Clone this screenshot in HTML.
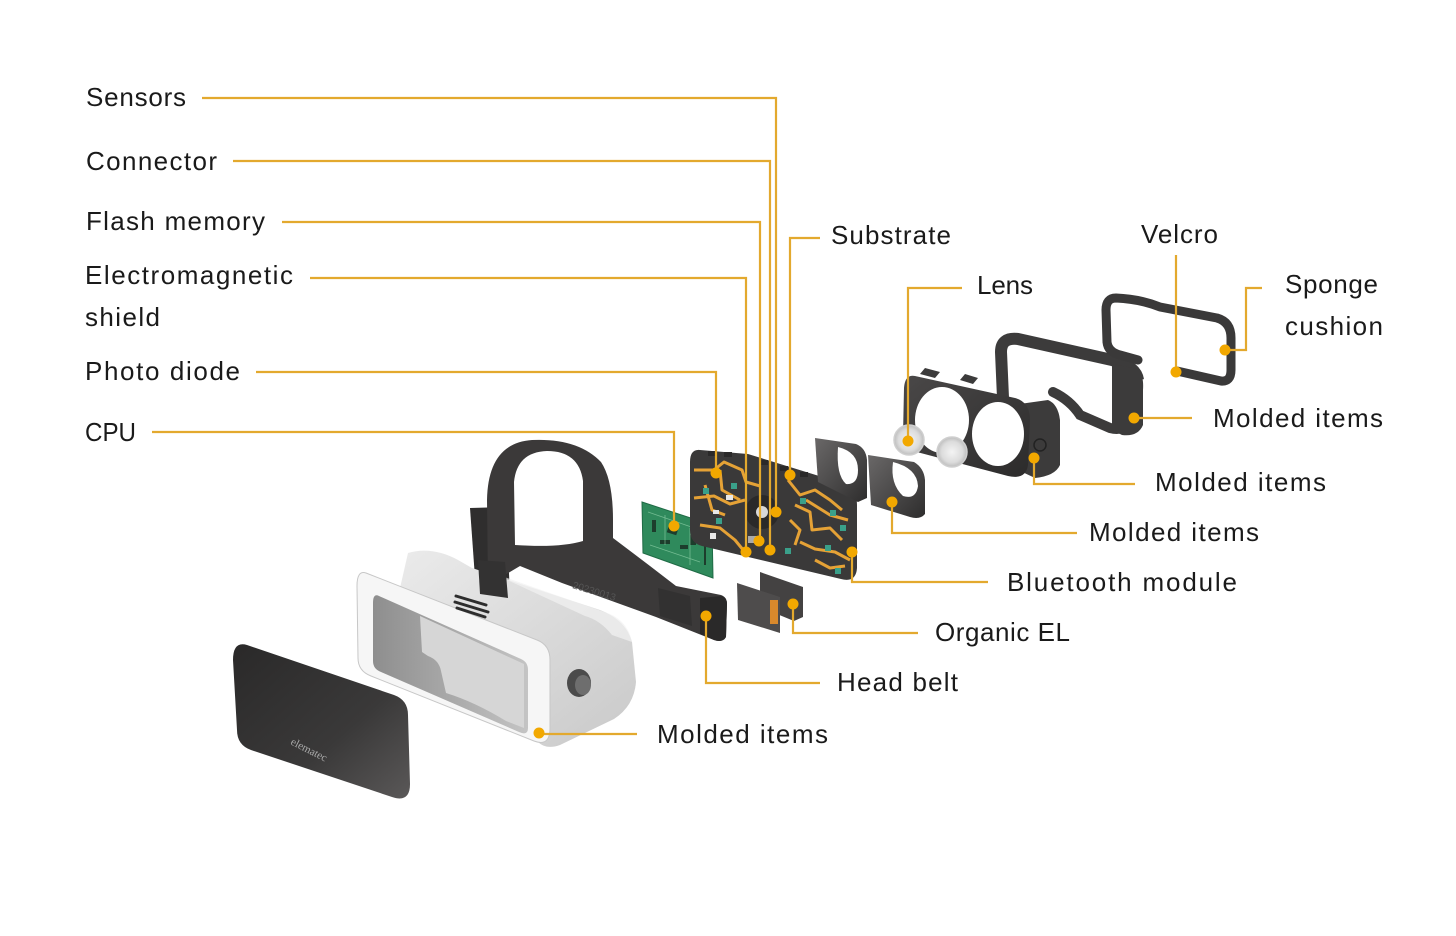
<!DOCTYPE html>
<html>
<head>
<meta charset="utf-8">
<style>
html,body{margin:0;padding:0;background:#fff;}
svg{display:block;}
text{font-family:"Liberation Sans",sans-serif;font-size:26px;fill:#1a1a1a;}
</style>
</head>
<body>
<svg width="1456" height="936" viewBox="0 0 1456 936" xmlns="http://www.w3.org/2000/svg">
<defs>
  <linearGradient id="gCover" x1="0" y1="0" x2="1" y2="1">
    <stop offset="0" stop-color="#2a2929"/>
    <stop offset="0.6" stop-color="#3a3939"/>
    <stop offset="1" stop-color="#5a5858"/>
  </linearGradient>
  <linearGradient id="gBody" x1="0" y1="0" x2="1" y2="1">
    <stop offset="0" stop-color="#ececec"/>
    <stop offset="1" stop-color="#c9c9c9"/>
  </linearGradient>
  <linearGradient id="gInner" x1="0" y1="0" x2="1" y2="0">
    <stop offset="0" stop-color="#8e8e8e"/>
    <stop offset="1" stop-color="#c4c4c4"/>
  </linearGradient>
  <linearGradient id="gDark" x1="0" y1="0" x2="1" y2="1">
    <stop offset="0" stop-color="#4a4848"/>
    <stop offset="1" stop-color="#2c2b2b"/>
  </linearGradient>
  <linearGradient id="gShade" x1="0" y1="0" x2="1" y2="1">
    <stop offset="0" stop-color="#6a6868"/>
    <stop offset="1" stop-color="#2e2d2d"/>
  </linearGradient>
  <radialGradient id="gLens" cx="0.5" cy="0.5" r="0.5">
    <stop offset="0" stop-color="#f4f4f4"/>
    <stop offset="0.7" stop-color="#dcdcdc"/>
    <stop offset="1" stop-color="#bdbdbd"/>
  </radialGradient>
</defs>

<!-- ===== Front cover panel ===== -->
<path d="M247,645 L394,695 Q408,700 408,715 L410,784 Q410,803 392,797 L251,750 Q237,745 237,730 L233,660 Q233,641 247,645 Z" fill="url(#gCover)"/>
<text x="290" y="744" transform="rotate(27 290 744)" style="font-size:11px;fill:#aaa;font-family:'Liberation Serif',serif;">elematec</text>

<!-- ===== Headband ===== -->
<path d="M470,508 L506,507 L510,596 L476,592 Z" fill="#2f2e2e"/>
<path fill-rule="evenodd" fill="#3b3939" d="M488,585 L487,500 Q488,443 532,440 Q578,438 601,462 Q613,480 613,520 L613,538 L650,566 L676,586 L721,595 Q727,597 727,604 L726,637 Q723,643 714,640 L656,617 L562,583 L520,566 Z
 M515,545 L514,482 Q517,452 547,451 Q579,451 583,481 L583,541 Q560,548 515,545 Z"/>
<path d="M700,598 L722,596 Q727,598 727,604 L726,637 Q722,643 714,640 L700,634 Z" fill="#2a2929"/>
<path d="M658,588 L690,596 L692,626 L660,616 Z" fill="#323131"/>
<text x="572" y="588" transform="rotate(17 572 588)" style="font-size:10px;fill:#555;">20230013</text>

<!-- ===== White body ===== -->
<path d="M408,553 Q432,546 458,560 L472,568 L600,610 Q626,620 632,642 L636,682 Q634,706 614,719 L560,745 Q546,750 538,742 L380,676 Z" fill="url(#gBody)"/>
<path d="M490,572 L610,614 Q628,622 632,642 L612,635 Q600,620 585,616 Z" fill="#f2f2f2" opacity="0.7"/>
<!-- front rim -->
<path d="M366,573 L537,640 Q550,645 550,660 L550,728 Q550,747 534,741 L371,676 Q358,671 358,658 L357,586 Q357,570 366,573 Z" fill="#f6f6f6" stroke="#c7c7c7" stroke-width="1"/>
<!-- inner opening -->
<path d="M379,596 L521,659 Q528,662 528,670 L528,728 Q528,736 519,732 L381,672 Q373,669 373,661 L373,603 Q373,593 379,596 Z" fill="url(#gInner)"/>
<path d="M420,616 L524,664 L524,728 L506,721 Q475,702 446,693 L441,671 Q439,660 428,656 L422,652 Z" fill="#d6d6d6"/>
<!-- vents -->
<g stroke="#2d2d2d" stroke-width="3" stroke-linecap="round">
  <line x1="456" y1="596" x2="486" y2="605"/>
  <line x1="455" y1="602" x2="488" y2="612"/>
  <line x1="457" y1="608" x2="485" y2="617"/>
</g>
<!-- strap over body top -->
<path d="M478,560 L505,562 L508,598 L480,594 Z" fill="#333232"/>
<!-- button -->
<ellipse cx="579" cy="683" rx="12" ry="14" fill="#4b4b4b"/>
<ellipse cx="583" cy="685" rx="8" ry="10" fill="#6e6e6e"/>

<!-- ===== PCB ===== -->
<path d="M642,502 L712,525 L713,578 L643,553 Z" fill="#2f8a5c" stroke="#1f6b45" stroke-width="1"/>
<g fill="#1d3d2c">
  <rect x="668" y="525" width="10" height="9" transform="rotate(18 673 529)"/>
  <rect x="652" y="520" width="4" height="12"/>
  <rect x="690" y="535" width="6" height="10"/>
  <rect x="680" y="545" width="8" height="4"/>
  <rect x="660" y="540" width="10" height="4"/>
  <rect x="704" y="535" width="2" height="30"/>
</g>
<g stroke="#8fd0a8" stroke-width="0.8" fill="none" opacity="0.7">
  <path d="M648,512 L700,530 M650,545 L700,562 M665,515 L665,545 M690,528 L690,565"/>
</g>

<!-- ===== Main substrate ===== -->
<path d="M700,450 L748,454 L845,484 Q857,490 857,505 L857,568 Q856,583 841,579 L702,546 Q690,543 690,530 L690,462 Q690,449 700,450 Z" fill="#3a3939"/>
<g fill="#2a2929">
  <rect x="708" y="451" width="8" height="5"/><rect x="724" y="452" width="8" height="5"/>
  <rect x="760" y="460" width="8" height="5"/><rect x="780" y="466" width="8" height="5"/>
  <rect x="800" y="472" width="8" height="5"/><rect x="820" y="478" width="8" height="5"/>
</g>
<g stroke="#e5a236" stroke-width="3" fill="none" stroke-linejoin="round">
  <path d="M694,470 L714,470 L724,462 L742,470 L746,482 L760,486"/>
  <path d="M694,498 L714,496 L730,504 L745,500"/>
  <path d="M700,525 L720,528 L735,540 L744,551"/>
  <path d="M720,470 L722,490 L740,500"/>
  <path d="M705,485 L712,510 L725,515"/>
  <path d="M788,480 L800,495 L815,490 L830,500 L842,510"/>
  <path d="M795,505 L810,512 L812,530 L830,528 L842,540"/>
  <path d="M800,542 L815,549 L835,552 L850,560"/>
  <path d="M790,520 L800,530 L795,545"/>
  <path d="M806,500 L830,515 L848,520"/>
  <path d="M815,560 L830,568 L845,566"/>
</g>
<circle cx="762" cy="512" r="17" fill="#2a2929"/>
<circle cx="762" cy="512" r="6" fill="#d8d8d8"/>
<rect x="748" y="536" width="14" height="7" fill="#aaa"/>
<g fill="#3aa08a">
  <rect x="703" y="488" width="6" height="6"/><rect x="731" y="483" width="6" height="6"/>
  <rect x="716" y="518" width="6" height="6"/><rect x="800" y="498" width="6" height="6"/>
  <rect x="830" y="510" width="6" height="6"/><rect x="840" y="525" width="6" height="6"/>
  <rect x="825" y="545" width="6" height="6"/><rect x="835" y="568" width="6" height="6"/>
  <rect x="785" y="548" width="6" height="6"/>
</g>
<g fill="#e8e8e8">
  <rect x="726" y="495" width="7" height="5"/><rect x="713" y="510" width="6" height="4"/><rect x="710" y="533" width="6" height="6"/>
</g>

<!-- ===== Organic EL ===== -->
<path d="M760,572 L803,587 L803,617 L794,621 L760,607 Z" fill="#444242"/>
<path d="M737,583 L780,597 L780,633 L738,620 Z" fill="#4e4c4c"/>
<rect x="770" y="600" width="8" height="24" fill="#d9892c"/>

<!-- ===== Shades ===== -->
<path d="M815,438 L856,444 Q866,448 867,460 L867,498 L858,502 L818,482 Z" fill="url(#gShade)"/>
<path d="M838,447 Q858,452 858,470 Q858,485 846,484 Q836,475 838,447 Z" fill="#fff"/>
<path d="M868,455 L914,462 Q924,468 925,480 L925,514 Q920,520 910,517 L871,505 Z" fill="url(#gShade)"/>
<path d="M893,462 Q917,468 918,486 Q916,500 903,496 Q890,484 893,462 Z" fill="#fff"/>

<!-- ===== Middle frame ===== -->
<path d="M1003,398 L1001,352 Q1001,337 1018,339 L1112,360 Q1136,366 1138,380" fill="none" stroke="#3c3b3b" stroke-width="12" stroke-linejoin="round"/>
<path d="M1053,392 Q1070,400 1080,415 L1110,428 Q1125,432 1128,420" fill="none" stroke="#3c3b3b" stroke-width="10" stroke-linecap="round"/>
<path d="M1112,364 L1138,369 Q1144,375 1143,390 L1143,425 Q1138,437 1122,435 L1112,430 Z" fill="#3c3b3b"/>

<!-- ===== Lens frame (front goggles) ===== -->
<path d="M1012,405 L1048,400 Q1058,404 1060,420 L1060,465 Q1055,476 1035,478 L1018,470 Z" fill="#3c3b3b"/>
<path d="M915,376 L1015,398 Q1030,402 1030,420 L1028,465 Q1026,480 1008,476 L913,451 Q903,448 903,435 L904,388 Q905,374 915,376 Z" fill="url(#gDark)"/>
<ellipse cx="942" cy="420" rx="27" ry="33" fill="#fff"/>
<ellipse cx="998" cy="434" rx="26" ry="32" fill="#fff"/>
<path d="M920,374 L925,368 L940,372 L935,378 Z M960,380 L965,374 L978,378 L973,384 Z" fill="#3c3b3b"/>
<circle cx="1040" cy="445" r="6" fill="none" stroke="#222" stroke-width="1.5"/>
<!-- lenses -->
<circle cx="909" cy="440" r="15" fill="url(#gLens)" stroke="#cfcfcf" stroke-width="1.5"/>
<circle cx="952" cy="452" r="15" fill="url(#gLens)" stroke="#cfcfcf" stroke-width="1.5"/>

<!-- ===== Sponge cushion ===== -->
<path d="M1177,371 L1221,381 Q1231,382 1231,370 L1231,338 Q1231,322 1217,318 L1160,307 Q1140,299 1116,298 Q1106,298 1106,310 L1107,342 Q1108,352 1120,355 L1138,360" fill="none" stroke="#3a3939" stroke-width="9" stroke-linecap="round" stroke-linejoin="round"/>

<!-- ===== Leader lines ===== -->
<g stroke="#e3a92e" stroke-width="2.2" fill="none">
  <path d="M202,98 H776 V512"/>
  <path d="M233,161 H770 V550"/>
  <path d="M282,222 H760 V541"/>
  <path d="M310,278 H746 V552"/>
  <path d="M256,372 H716 V473"/>
  <path d="M152,432 H674 V526"/>
  <path d="M820,238 H790 V475"/>
  <path d="M962,288 H908 V440"/>
  <path d="M1176,255 V372"/>
  <path d="M1262,288 H1246 V350 H1225"/>
  <path d="M1192,418 H1134"/>
  <path d="M1135,484 H1034 V458"/>
  <path d="M1077,533 H892 V502"/>
  <path d="M988,582 H852 V552"/>
  <path d="M918,633 H793 V604"/>
  <path d="M820,683 H706 V616"/>
  <path d="M637,734 H539"/>
</g>
<g fill="#f2a800">
  <circle cx="776" cy="512" r="5.5"/>
  <circle cx="770" cy="550" r="5.5"/>
  <circle cx="759" cy="541" r="5.5"/>
  <circle cx="746" cy="552" r="5.5"/>
  <circle cx="716" cy="473" r="5.5"/>
  <circle cx="674" cy="526" r="5.5"/>
  <circle cx="790" cy="475" r="5.5"/>
  <circle cx="908" cy="441" r="5.5"/>
  <circle cx="1176" cy="372" r="5.5"/>
  <circle cx="1225" cy="350" r="5.5"/>
  <circle cx="1134" cy="418" r="5.5"/>
  <circle cx="1034" cy="458" r="5.5"/>
  <circle cx="892" cy="502" r="5.5"/>
  <circle cx="852" cy="552" r="5.5"/>
  <circle cx="793" cy="604" r="5.5"/>
  <circle cx="706" cy="616" r="5.5"/>
  <circle cx="539" cy="733" r="5.5"/>
</g>

<!-- ===== Labels ===== -->
<text x="86" y="106" textLength="100" lengthAdjust="spacing">Sensors</text>
<text x="86" y="170" textLength="131" lengthAdjust="spacing">Connector</text>
<text x="86" y="230" textLength="179" lengthAdjust="spacing">Flash memory</text>
<text x="85" y="284" textLength="208" lengthAdjust="spacing">Electromagnetic</text>
<text x="85" y="326" textLength="75" lengthAdjust="spacing">shield</text>
<text x="85" y="380" textLength="155" lengthAdjust="spacing">Photo diode</text>
<text x="85" y="441" textLength="51" lengthAdjust="spacingAndGlyphs">CPU</text>
<text x="831" y="244" textLength="120" lengthAdjust="spacing">Substrate</text>
<text x="977" y="294" textLength="56" lengthAdjust="spacing">Lens</text>
<text x="1141" y="243" textLength="77" lengthAdjust="spacing">Velcro</text>
<text x="1285" y="293" textLength="93" lengthAdjust="spacing">Sponge</text>
<text x="1285" y="335" textLength="98" lengthAdjust="spacing">cushion</text>
<text x="1213" y="427" textLength="170" lengthAdjust="spacing">Molded items</text>
<text x="1155" y="491" textLength="171" lengthAdjust="spacing">Molded items</text>
<text x="1089" y="541" textLength="170" lengthAdjust="spacing">Molded items</text>
<text x="1007" y="591" textLength="230" lengthAdjust="spacing">Bluetooth module</text>
<text x="935" y="641" textLength="135" lengthAdjust="spacing">Organic EL</text>
<text x="837" y="691" textLength="121" lengthAdjust="spacing">Head belt</text>
<text x="657" y="743" textLength="171" lengthAdjust="spacing">Molded items</text>
</svg>
</body>
</html>
